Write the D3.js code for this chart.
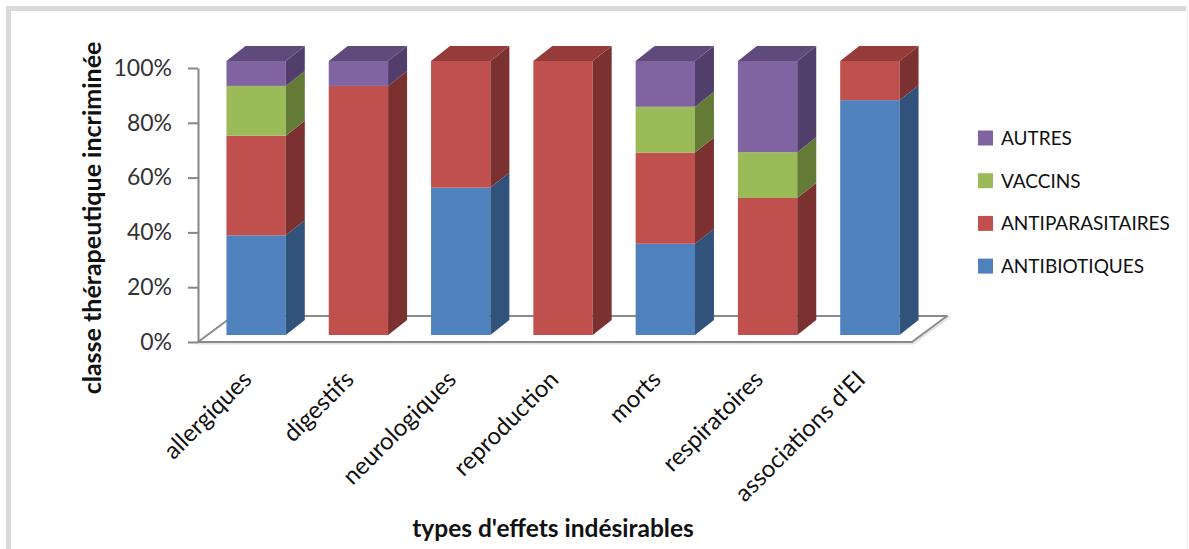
<!DOCTYPE html>
<html>
<head>
<meta charset="utf-8">
<script src="https://cdn.jsdelivr.net/npm/d3@7"></script>
<style>
  html, body { margin: 0; padding: 0; background: #fff; }
  svg { display: block; font-family: Lato, "Open Sans", sans-serif; }
</style>
</head>
<body>
<svg id="chart" width="1189" height="549"></svg>
<script>
// Types of adverse effects (x categories)
const categories = ["allergiques", "digestifs", "neurologiques", "reproduction", "morts", "respiratoires", "associations d'EI"];

// Share (%) of each therapeutic class per adverse-effect type
const antibiotiques    = [36.4, 0,    53.8, 0,   33.3, 0,    85.7];
const antiparasitaires = [36.4, 90.9, 46.2, 100, 33.3, 50.0, 14.3];
const vaccins          = [18.2, 0,    0,    0,   16.7, 16.7, 0];
const autres           = [9.1,  9.1,  0,    0,   16.7, 33.3, 0];

const seriesNames = ["ANTIBIOTIQUES", "ANTIPARASITAIRES", "VACCINS", "AUTRES"];
const yTicks = [0, 0.2, 0.4, 0.6, 0.8, 1];

// Face colours: front, side, top
const palette = {
  ANTIBIOTIQUES:    { front: "#4F81BD", side: "#31527A", top: "#3C6392" },
  ANTIPARASITAIRES: { front: "#C0504D", side: "#7B3130", top: "#953B39" },
  VACCINS:          { front: "#9BBB59", side: "#647A37", top: "#789244" },
  AUTRES:           { front: "#8064A2", side: "#523E6B", top: "#604A7B" }
};

const table = categories.map((c, i) => ({
  cat: c,
  ANTIBIOTIQUES: antibiotiques[i],
  ANTIPARASITAIRES: antiparasitaires[i],
  VACCINS: vaccins[i],
  AUTRES: autres[i]
}));

const stacked = d3.stack().keys(seriesNames).offset(d3.stackOffsetExpand)(table);

const svg = d3.select("#chart");

// Chart frame
svg.append("rect").attr("x", 6).attr("y", 6).attr("width", 1180).attr("height", 5).attr("fill", "#d9d9d9");
svg.append("rect").attr("x", 6).attr("y", 6).attr("width", 5).attr("height", 543).attr("fill", "#d9d9d9");
svg.append("rect").attr("x", 1187).attr("y", 6).attr("width", 1).attr("height", 543).attr("fill", "#efefef");

// Plot geometry (oblique projection: depth vector)
const plotLeft = 198, plotRight = 912, plotBottom = 342, plotTop = 68;
const depth = { dx: 35, dy: -26 };      // full floor depth
const barFront = { dx: 8, dy: -7 };     // front face of bars inside the floor
const barDepth = { dx: 19, dy: -15 };   // thickness of each column

const x = d3.scaleBand().domain(categories).range([plotLeft, plotRight])
  .paddingInner(0.42).paddingOuter(0.2);
const y = d3.scaleLinear().domain([0, 1]).range([plotBottom, plotTop]);

// Floor
const floor = [
  [plotLeft, plotBottom],
  [plotRight, plotBottom],
  [plotRight + depth.dx, plotBottom + depth.dy],
  [plotLeft + depth.dx, plotBottom + depth.dy]
];
svg.append("polygon")
  .attr("points", floor.map(p => p.map(v => v + 1.5).join(",")).join(" "))
  .attr("fill", "none").attr("stroke", "#e2e2e2").attr("stroke-width", 2);
svg.append("polygon")
  .attr("points", floor.map(p => p.join(",")).join(" "))
  .attr("fill", "#fff").attr("stroke", "#8a8a8a").attr("stroke-width", 2)
  .attr("stroke-linejoin", "round");

// Vertical axis
const yAxis = d3.axisLeft(y).tickValues(yTicks).tickFormat(d3.format(".0%"))
  .tickSize(10).tickSizeOuter(0).tickPadding(16);
const gy = svg.append("g").attr("transform", `translate(${plotLeft},0)`).call(yAxis);
gy.select(".domain").attr("stroke", "#868686").attr("stroke-width", 2);
gy.selectAll(".tick line").attr("stroke", "#868686").attr("stroke-width", 2);
gy.selectAll(".tick text").attr("font-size", 23).attr("fill", "#333")
  .attr("font-family", "Lato, 'Open Sans', sans-serif");

// Columns
const bars = svg.append("g");
categories.forEach((cat, i) => {
  const x0 = x(cat) + barFront.dx;
  const x1 = x0 + x.bandwidth();
  const segs = stacked.map(s => ({ key: s.key, y0: s[i][0], y1: s[i][1] }))
    .filter(s => s.y1 - s.y0 > 1e-6);
  const g = bars.append("g");
  segs.forEach((s, k) => {
    const c = palette[s.key];
    const yb = y(s.y0) + barFront.dy;
    const yt = y(s.y1) + barFront.dy;
    // front face
    g.append("rect").attr("x", x0).attr("y", yt).attr("width", x1 - x0).attr("height", yb - yt)
      .attr("fill", c.front);
    // side face
    g.append("polygon")
      .attr("points", [[x1, yb], [x1 + barDepth.dx, yb + barDepth.dy],
                       [x1 + barDepth.dx, yt + barDepth.dy], [x1, yt]].map(p => p.join(",")).join(" "))
      .attr("fill", c.side);
    // top face on the highest segment
    if (k === segs.length - 1) {
      g.append("polygon")
        .attr("points", [[x0, yt], [x1, yt], [x1 + barDepth.dx, yt + barDepth.dy],
                         [x0 + barDepth.dx, yt + barDepth.dy]].map(p => p.join(",")).join(" "))
        .attr("fill", c.top);
    }
  });
});

// Category labels
svg.append("g").selectAll("text").data(categories).join("text")
  .attr("transform", d => `translate(${x(d) + barFront.dx + x.bandwidth() / 2 - 3},${plotBottom + 39}) rotate(-45)`)
  .attr("text-anchor", "end")
  .attr("font-size", 24)
  .attr("fill", "#111")
  .text(d => d);

// Axis titles
svg.append("text")
  .attr("x", 553).attr("y", 537)
  .attr("text-anchor", "middle")
  .attr("font-size", 24.5).attr("font-weight", "bold").attr("fill", "#111")
  .text("types d'effets indésirables");

svg.append("text")
  .attr("transform", "translate(101,218) rotate(-90)")
  .attr("text-anchor", "middle")
  .attr("font-size", 25).attr("font-weight", "bold").attr("fill", "#111")
  .text("classe thérapeutique incriminée");

// Legend (top to bottom: last series first)
const legendRows = seriesNames.slice().reverse();
const legend = svg.append("g").selectAll("g").data(legendRows).join("g")
  .attr("transform", (d, i) => `translate(978,${138 + i * 42.7})`);
legend.append("rect").attr("x", 0).attr("y", -7.5).attr("width", 15).attr("height", 15)
  .attr("fill", d => palette[d].front);
legend.append("text").attr("x", 23).attr("y", 7)
  .attr("font-size", 19).attr("fill", "#111")
  .text(d => d);
</script>
</body>
</html>
